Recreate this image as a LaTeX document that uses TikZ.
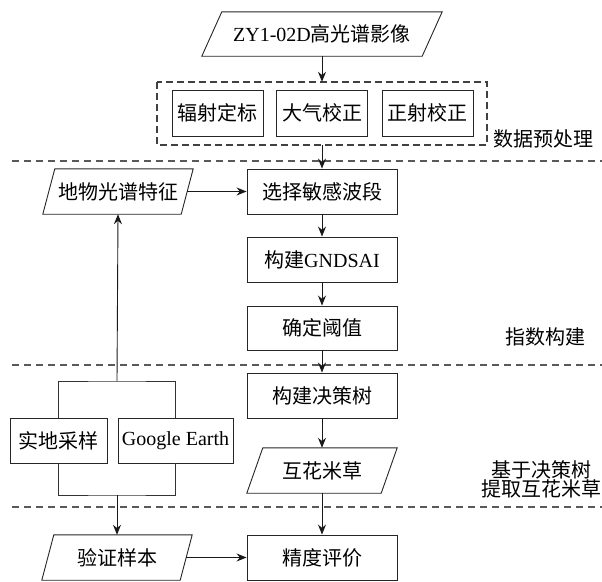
\documentclass[tikz,border=0pt]{standalone}
\usepackage{fontspec}
\setmainfont{Liberation Serif}
\newfontfamily\cjk{Noto Sans CJK SC}
\newfontfamily\lat{Liberation Serif}
\usetikzlibrary{arrows.meta,calc}
\tikzset{
  box/.style={draw=black!85, line width=0.9pt, minimum height=45pt, minimum width=150pt, inner sep=0pt},
  smallbox/.style={draw=black!85, line width=0.9pt, minimum height=46pt, minimum width=91pt, inner sep=0pt},
  paranode/.style={minimum height=45pt, inner sep=0pt},
  arr/.style={line width=0.9pt, draw=black!90, -{Stealth[length=10pt,width=8pt]}},
  conn/.style={line width=0.9pt, draw=black!80},
  sep/.style={line width=1.2pt, draw=black!65, dash pattern=on 7pt off 5pt},
  prebox/.style={line width=1.1pt, draw=black!75, dash pattern=on 7pt off 4pt},
  lbl/.style={inner sep=0pt, align=center},
}
\newcommand{\parashape}[2]{%
  \draw[line width=0.9pt, draw=black!85]
    ($(#1.north west)+(#2,0)$) -- ($(#1.north east)+(#2,0)$) --
    ($(#1.south east)+(-#2,0)$) -- ($(#1.south west)+(-#2,0)$) -- cycle;}
\begin{document}
\begin{tikzpicture}[x=1pt,y=-1pt, font=\cjk\fontsize{20}{23}\selectfont]
\useasboundingbox (0,0) rectangle (602,581);
\fill[white] (0,0) rectangle (602,581);

% top input
\node[paranode, minimum width=220pt, minimum height=44pt] (top) at (322,34) {{\lat ZY1-02D}高光谱影像};
\parashape{top}{10}

% preprocessing group
\coordinate (preNW) at (157,82);
\coordinate (preSE) at (487,145);
\draw[prebox] (preNW) rectangle (preSE);
\node[inner sep=0pt, minimum width=330pt, minimum height=63pt] (pre) at (322,113.5) {};
\node[smallbox] (b1) at (217.5,113) {辐射定标};
\node[smallbox] (b2) at (322,113) {大气校正};
\node[smallbox] (b3) at (427.5,113) {正射校正};

% separators
\coordinate (s1a) at (12,161); \coordinate (s1b) at (602,161);
\coordinate (s2a) at (12,365); \coordinate (s2b) at (602,365);
\coordinate (s3a) at (12,507); \coordinate (s3b) at (602,507);
\draw[sep] (s1a) -- (s1b);
\draw[sep] (s2a) -- (s2b);
\draw[sep] (s3a) -- (s3b);

% main column
\node[box] (sel) at (322,191.5) {选择敏感波段};
\node[box] (gnd) at (322,259.5) {构建{\lat GNDSAI}};
\node[box, minimum height=44pt] (thr) at (322,328) {确定阈值};
\node[box] (dt) at (322,395.5) {构建决策树};
\node[paranode, minimum width=134pt] (sa) at (322,470.5) {互花米草};
\parashape{sa}{8}
\node[box] (acc) at (322,557.5) {精度评价};

% left column
\node[paranode, minimum width=138pt] (feat) at (118,191.5) {地物光谱特征};
\parashape{feat}{6}
\node[box, minimum width=97pt] (field) at (58.5,440.5) {实地采样};
\node[box, minimum width=115pt] (ge) at (175.5,440.5) {\lat Google Earth};
\node[paranode, minimum width=138pt] (val) at (117,557.5) {验证样本};
\parashape{val}{6}

\coordinate (ft) at (117,381);
\coordinate (fb) at (117,495);
\draw[conn] (field.north) |- (ft) -| (ge.north);
\draw[conn] (field.south) |- (fb) -| (ge.south);

% connectors
\draw[arr] (top.south) -- (pre.north);
\draw[arr] (pre.south) -- (sel.north);
\draw[arr] (sel.south) -- (gnd.north);
\draw[arr] (gnd.south) -- (thr.north);
\draw[arr] (thr.south) -- (dt.north);
\draw[arr] (dt.south) -- (sa.north);
\draw[arr] (sa.south) -- (acc.north);
\draw[arr] (feat.east) -- (sel.west);
\draw[arr] (ft) -- (feat.south);
\draw[arr] (fb) -- (val.north);
\draw[arr] (val.east) -- (acc.west);

% stage labels
\node[lbl] (l1) at (543,139) {数据预处理};
\node[lbl] (l2) at (545,337) {指数构建};
\node[lbl, font=\cjk\fontsize{20}{19}\selectfont] (l3) at (541,479) {基于决策树\\提取互花米草};
\end{tikzpicture}
\end{document}
